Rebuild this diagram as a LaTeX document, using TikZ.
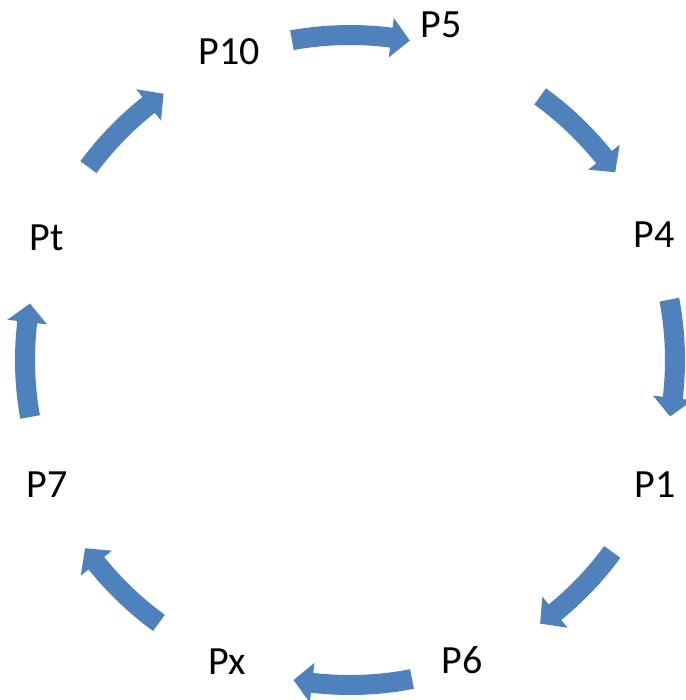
\documentclass[tikz,border=0pt]{standalone}
\usepackage{fontspec}
\setmainfont{Carlito}
\definecolor{arrowblue}{HTML}{4F81BD}
\tikzset{
  lbl/.style={font=\fontsize{40}{48}\selectfont, inner sep=0pt, anchor=center},
}
% #1 tail angle, #2 tip angle (clockwise, #2 < #1)
\newcommand\cyclearrow[2]{%
  \fill[arrowblue] ({#1}:335) arc[start angle={#1}, end angle={#2+3.3}, radius=335]
    -- ({#2+3.3}:345) -- ({#2}:325) -- ({#2+3.3}:305) -- ({#2+3.3}:315)
    arc[start angle={#2+3.3}, end angle={#1}, radius=315] -- cycle;}
\begin{document}
\begin{tikzpicture}[x=1pt,y=1pt]
\useasboundingbox (0,0) rectangle (685,700);
\coordinate (C) at (350,340);
% labels (image y -> 700-y)
\node[lbl] (p5)  at (441,675) {P5};
\node[lbl] (p10) at (229,648) {P10};
\node[lbl] (p4)  at (654,465) {P4};
\node[lbl] (pt)  at (47,462) {Pt};
\node[lbl] (p1)  at (655,215) {P1};
\node[lbl] (p7)  at (47,215) {P7};
\node[lbl] (p6)  at (462,40) {P6};
\node[lbl] (px)  at (227,38) {Px};
\begin{scope}[shift={(C)}]
\cyclearrow{100.3}{79.4}
\cyclearrow{54.2}{35.3}
\cyclearrow{10.7}{-10}
\cyclearrow{-36.2}{-54.2}
\cyclearrow{-79}{-100}
\cyclearrow{-126}{-144.6}
\cyclearrow{-169.9}{-190}
\cyclearrow{143.6}{125}
\end{scope}
\end{tikzpicture}
\end{document}
